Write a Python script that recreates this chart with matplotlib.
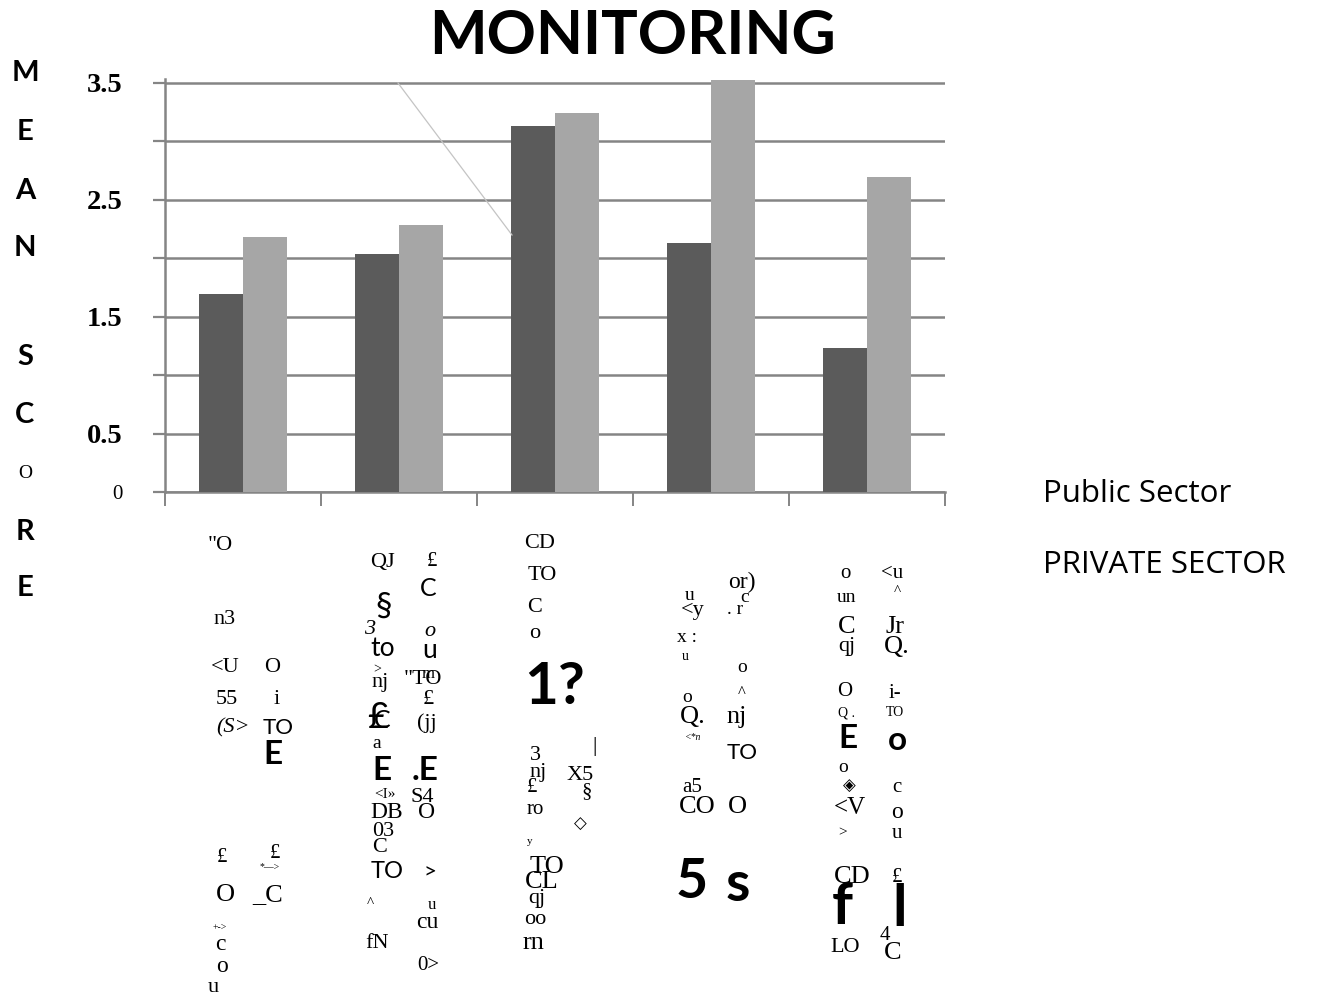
import matplotlib
matplotlib.use("Agg")
import matplotlib.pyplot as plt
import numpy as np
from matplotlib.lines import Line2D

# ---- data -------------------------------------------------------------
series_names = ["Public Sector", "PRIVATE SECTOR"]
public_sector = [1.69, 2.03, 3.13, 2.13, 1.23]
private_sector = [2.18, 2.28, 3.24, 3.52, 2.69]
y_ticks = [0.0, 0.5, 1.0, 1.5, 2.0, 2.5, 3.0, 3.5]
y_tick_labels = ["0", "0.5", "", "1.5", "", "2.5", "", "3.5"]
title_text = "MONITORING"
ylabel_letters = ["M", "E", "A", "N", "S", "C", "O", "R", "E"]

# ---- figure -----------------------------------------------------------
W, H = 1317, 999
fig = plt.figure(figsize=(W / 100, H / 100), dpi=100)
fig.patch.set_facecolor("white")

SERIF = ["Liberation Serif", "DejaVu Serif", "DejaVu Sans"]
SANS = ["Lato", "Open Sans", "DejaVu Sans"]
WIDE_SANS = ["Open Sans", "DejaVu Sans"]

GRID = "#858585"
DARK = "#5b5b5b"
LIGHT = "#a6a6a6"


def px(x, y):
    return x / W, 1 - y / H


ax = fig.add_axes([165 / W, 1 - 492 / H, 780 / W, (492 - 79) / H])
x = np.arange(len(public_sector))
bw = 0.283
ax.bar(x - bw / 2, public_sector, bw, color=DARK, zorder=3, linewidth=0)
ax.bar(x + bw / 2, private_sector, bw, color=LIGHT, zorder=3, linewidth=0)

ax.set_xlim(-0.5, 4.5)
ax.set_ylim(0, 3.53)
ax.set_yticks(y_ticks)
ax.set_yticklabels(y_tick_labels)
ax.set_xticks(np.arange(-0.5, 5.0, 1.0))
ax.set_xticklabels([])
ax.yaxis.grid(True, color=GRID, linewidth=1.8, zorder=1)
ax.set_axisbelow(True)
ax.tick_params(axis="y", direction="out", length=8.6, width=1.6, color=GRID, pad=22)
ax.tick_params(axis="x", direction="out", length=10, width=1.4, color=GRID)
for side in ("top", "right"):
    ax.spines[side].set_visible(False)
ax.spines["left"].set_color(GRID)
ax.spines["left"].set_linewidth(1.8)
ax.spines["bottom"].set_color(GRID)
ax.spines["bottom"].set_linewidth(1.8)

for lab in ax.get_yticklabels():
    if lab.get_text() == "0":
        lab.set_fontfamily(SERIF)
        lab.set_fontsize(15)
    else:
        lab.set_fontfamily(SERIF)
        lab.set_fontweight("bold")
        lab.set_fontsize(20.5)

# faint diagonal stroke across the upper plot area
fig.add_artist(Line2D([398 / W, 512 / W], [1 - 83 / H, 1 - 235 / H],
                      color="#c4c4c4", linewidth=0.9, zorder=2))

# ---- title, axis label, legend text -----------------------------------
fig.text(*px(633, 36), title_text, ha="center", va="center",
         fontsize=44, fontweight="bold", family=SANS)

letter_y = [73, 132, 191, 248, 357, 415, 474, 532, 588]
for ch, yy in zip(ylabel_letters, letter_y):
    if yy == 474:
        fig.text(*px(25, yy), ch, ha="center", va="center", fontsize=14, family=SERIF)
    else:
        fig.text(*px(25, yy), ch, ha="center", va="center", fontsize=21,
                 fontweight="bold", family=SANS)

fig.text(*px(1043, 494), series_names[0], ha="left", va="center", fontsize=22.5, family=WIDE_SANS)
fig.text(*px(1043, 565), series_names[1], ha="left", va="center", fontsize=22.5, family=WIDE_SANS)

# ---- category labels (scanned text fragments) -------------------------
fragments = [
    # first category
    ('"O', 220, 545, 16, 'S'), ('n3', 225, 620, 16, 'S'), ('<U', 225, 667, 16, 'S'),
    ('O', 272, 667, 16, 'S'), ('55', 227, 700, 16, 'S'), ('i', 277, 700, 16, 'S'),
    ('(S>', 233, 728, 16, 'SI'), ('TO', 278, 728, 16, 'N'), ('E', 273, 755, 24, 'B'),
    ('£', 222, 857, 15, 'S'), ('*—>', 270, 867, 7, 'S'), ('£', 275, 853, 15, 'S'),
    ('O', 225, 895, 19, 'S'), ('_C', 268, 895, 19, 'S'), ('+->', 220, 927, 7, 'S'),
    ('c', 220, 945, 17, 'S'), ('o', 222, 967, 17, 'S'), ('u', 213, 988, 16, 'S'),
    # second category
    ('QJ', 382, 562, 16, 'S'), ('£', 432, 562, 15, 'S'), ('C', 428, 588, 18, 'N'),
    ('§', 384, 607, 24, 'N'), ('3', 370, 630, 16, 'SI'), ('o', 430, 632, 16, 'SI'),
    ('to', 383, 648, 19, 'N'), ('u', 430, 650, 19, 'N'), ('>', 377, 670, 10, 'S'),
    ('nj', 380, 682, 16, 'S'), ('"TO', 423, 680, 16, 'S'), ('m', 428, 674, 12, 'S'),
    ('£', 428, 700, 16, 'S'), ('£', 378, 717, 26, 'N'), ('C', 382, 720, 18, 'N'),
    ('(jj', 427, 723, 16, 'S'), ('a', 377, 743, 14, 'S'), ('E', 382, 770, 24, 'B'),
    ('.E', 425, 770, 24, 'B'), ('<I»', 385, 795, 11, 'S'), ('S4', 422, 797, 16, 'S'),
    ('DB', 387, 813, 17, 'S'), ('O', 427, 813, 17, 'S'), ('03', 383, 832, 16, 'S'),
    ('C', 380, 848, 16, 'S'), ('TO', 387, 872, 17, 'N'), ('>', 430, 873, 16, 'N'),
    ('^', 370, 903, 11, 'S'), ('u', 432, 905, 12, 'S'), ('cu', 427, 923, 17, 'S'),
    ('fN', 377, 943, 16, 'S'), ('0>', 428, 965, 15, 'S'),
    # third category
    ('CD', 540, 543, 16, 'S'), ('TO', 542, 575, 16, 'S'), ('C', 535, 608, 16, 'S'),
    ('o', 535, 633, 16, 'S'), ('1?', 555, 688, 42, 'B'), ('3', 535, 755, 16, 'S'),
    ('|', 595, 747, 16, 'S'), ('nj', 538, 773, 16, 'S'), ('X5', 580, 775, 16, 'S'),
    ('£', 532, 787, 15, 'S'), ('§', 587, 792, 15, 'S'), ('ro', 535, 810, 15, 'S'),
    ('◇', 580, 825, 12, 'S'), ('y', 530, 842, 8, 'S'), ('TO', 547, 867, 19, 'S'),
    ('CL', 542, 882, 19, 'S'), ('qj', 537, 898, 16, 'S'), ('oo', 535, 920, 16, 'S'),
    ('rn', 533, 943, 19, 'S'),
    # fourth category
    ('u', 690, 595, 14, 'S'), ('<y', 693, 610, 16, 'S'), ('or)', 742, 582, 17, 'S'),
    ('c', 745, 597, 14, 'S'), ('. r', 735, 610, 14, 'S'), ('x :', 687, 638, 14, 'S'),
    ('u', 685, 657, 10, 'S'), ('o', 742, 667, 14, 'S'), ('^', 742, 693, 12, 'S'),
    ('o', 687, 698, 14, 'S'), ('Q.', 693, 717, 19, 'S'), ('nj', 737, 717, 19, 'S'),
    ('<*n', 693, 737, 7, 'SI'), ('TO', 742, 753, 16, 'N'), ('a5', 692, 788, 15, 'S'),
    ('CO', 697, 807, 19, 'S'), ('O', 737, 807, 19, 'S'), ('5', 692, 882, 40, 'B'),
    ('s', 738, 885, 40, 'B'),
    # fifth category
    ('o', 845, 573, 15, 'S'), ('<u', 892, 573, 15, 'S'), ('un', 847, 597, 14, 'S'),
    ('^', 897, 592, 11, 'S'), ('C', 847, 627, 19, 'S'), ('Jr', 895, 627, 19, 'S'),
    ('qj', 847, 647, 16, 'S'), ('Q.', 897, 647, 19, 'S'), ('O', 845, 692, 15, 'S'),
    ('i-', 895, 693, 15, 'S'), ('Q .', 847, 713, 10, 'S'), ('TO', 895, 713, 10, 'S'),
    ('E', 848, 738, 24, 'B'), ('o', 897, 740, 24, 'B'), ('o', 843, 767, 14, 'S'),
    ('◈', 849, 787, 12, 'S'), ('<V', 850, 808, 18, 'S'), ('c', 897, 788, 15, 'S'),
    ('o', 897, 812, 17, 'S'), ('>', 843, 833, 11, 'S'), ('u', 897, 833, 15, 'S'),
    ('CD', 852, 877, 19, 'S'), ('£', 897, 877, 15, 'S'), ('f', 842, 907, 42, 'B'),
    ('l', 900, 910, 42, 'B'), ('4', 885, 935, 15, 'S'), ('C', 893, 953, 19, 'S'),
    ('LO', 845, 948, 16, 'S'),
]

styles = {
    'S': dict(family=SERIF),
    'SI': dict(family=SERIF, style='italic'),
    'N': dict(family=SANS),
    'B': dict(family=SANS, fontweight='bold'),
}
for txt, fx, fy, fs, st in fragments:
    fig.text(*px(fx, fy), txt, ha="center", va="center", fontsize=fs, **styles[st])

fig.savefig("out.png", dpi=100, facecolor="white")
